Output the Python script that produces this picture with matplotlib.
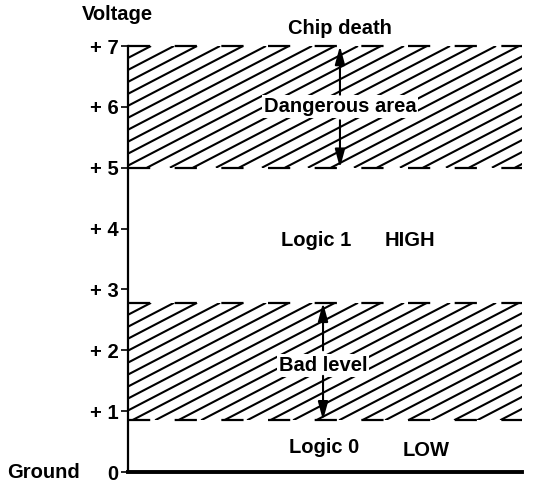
import numpy as np
import matplotlib
matplotlib.use('Agg')
import matplotlib.pyplot as plt
from matplotlib.patches import Rectangle

plt.rcParams['font.family'] = ['Liberation Sans', 'DejaVu Sans']
plt.rcParams['font.weight'] = 'bold'

# data
volt_ticks = [0, 1, 2, 3, 4, 5, 6, 7]
volt_labels = ['0', '+ 1', '+ 2', '+ 3', '+ 4', '+ 5', '+ 6', '+ 7']
band_low = [5.0, 0.85]
band_high = [7.0, 2.78]
band_names = ['Dangerous area', 'Bad level']
band_text_y = [6.0, 1.75]
band_arrow_x = [0.538, 0.495]
band_gap = [(5.78, 6.2), (1.58, 2.0)]
region_labels = [('Logic 1', 0.477, 3.8), ('HIGH', 0.716, 3.8),
                 ('Logic 0', 0.497, 0.41), ('LOW', 0.756, 0.36)]

FS = 14.5

fig = plt.figure(figsize=(5.47, 4.88), dpi=100)
ax = fig.add_axes([128 / 547, 16 / 488, 394 / 547, 426 / 488])
ax.set_xlim(0, 1)
ax.set_ylim(0, 7)

# hatch drawn by hand so the angle matches (about 28 deg on screen)
px_x, px_y = 394.0, 426.0 / 7
slope = 0.52 * px_x / px_y
step = 23.0 / px_x
for lo, hi in zip(band_low, band_high):
    clip = Rectangle((0, lo), 1, hi - lo, transform=ax.transData)
    run = (hi - lo) / slope
    for c in np.arange(-run, 1 + step, step):
        ln, = ax.plot([c, c + run], [lo, hi], color='k', lw=1.5,
                      solid_capstyle='butt')
        ln.set_clip_path(clip)
    for y in (lo, hi):
        ax.plot([0, 1], [y, y], color='k', lw=1.6,
                dashes=(10, 11), clip_on=False)

for name, ty, x, (g0, g1), lo, hi in zip(band_names, band_text_y, band_arrow_x,
                                         band_gap, band_low, band_high):
    ax.text(x, ty, name, ha='center', va='center', fontsize=FS,
            bbox=dict(facecolor='white', edgecolor='none', pad=1.5))
    arr = dict(arrowstyle='-|>,head_length=1.1,head_width=0.3', color='k',
               lw=1.5, shrinkA=0, shrinkB=0)
    ax.annotate('', xy=(x, hi), xytext=(x, g1), arrowprops=arr)
    ax.annotate('', xy=(x, lo), xytext=(x, g0), arrowprops=arr)

for txt, x, y in region_labels:
    ax.text(x, y, txt, ha='center', va='center', fontsize=FS)

ax.text(0.538, 7.28, 'Chip death', ha='center', va='center', fontsize=FS,
        clip_on=False)

ax.set_yticks(volt_ticks)
ax.set_yticklabels(volt_labels, fontsize=FS, fontweight='bold')
ax.set_xticks([])
ax.tick_params(axis='y', direction='out', length=5, width=1.2, pad=2)
ax.spines['top'].set_visible(False)
ax.spines['right'].set_visible(False)
ax.spines['left'].set_linewidth(1.6)
ax.spines['bottom'].set_linewidth(2.8)

fig.text(117 / 547, 1 - 15 / 488, 'Voltage', ha='center', va='center', fontsize=FS)
fig.text(44 / 547, 1 - 472 / 488, 'Ground', ha='center', va='center', fontsize=FS)

fig.savefig('out.png', dpi=100)
